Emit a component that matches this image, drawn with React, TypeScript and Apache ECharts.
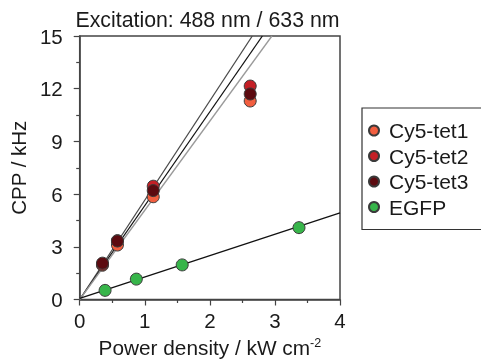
import React, { useEffect, useRef } from "react";
import * as echarts from "echarts";

const titleText = "Excitation: 488 nm / 633 nm";
const seriesNames = ["Cy5-tet1", "Cy5-tet2", "Cy5-tet3", "EGFP"];
const seriesColors = ["#f25e3f", "#c41f26", "#5c0a10", "#37b54a"];

const cy5Power = [0.35, 0.58, 1.13, 2.62];
const cy5Tet1 = [1.95, 3.1, 5.85, 11.3];
const cy5Tet2 = [2.0, 3.35, 6.45, 12.15];
const cy5Tet3 = [2.07, 3.33, 6.2, 11.7];

const egfpPower = [0.39, 0.87, 1.575, 3.37];
const egfpCpp = [0.52, 1.16, 1.97, 4.09];

// fit lines: [x0, y0, x1, y1]
const fitLineA = [0, 0, 2.652, 15];
const fitLineB = [0, 0, 2.807, 15];
const fitLineC = [0, 0, 2.954, 15];
const fitLineEgfp = [0, 0.07, 4, 4.93];
const fitColors = ["#4a4a4a", "#111111", "#9a9a9a", "#111111"];

const xTicks = [0, 1, 2, 3, 4];
const yTicks = [0, 3, 6, 9, 12, 15];

const FONT = "'Liberation Sans', Arial, Helvetica, sans-serif";

export default function App() {
  const ref = useRef<HTMLDivElement>(null);
  useEffect(() => {
    if (!ref.current) return;
    const chart = echarts.init(ref.current, null, { renderer: "svg" });
    const pts = (xs: number[], ys: number[]) => xs.map((x, i) => [x, ys[i]]);
    const line = (l: number[], color: string) => ({
      type: "line",
      data: [
        [l[0], l[1]],
        [l[2], l[3]],
      ],
      showSymbol: false,
      symbol: "none",
      silent: true,
      clip: true,
      lineStyle: { color, width: 1.3 },
      z: 1,
    });
    const scat = (name: string, xs: number[], ys: number[], color: string) => ({
      type: "scatter",
      name,
      data: pts(xs, ys),
      symbol: "circle",
      symbolSize: 12,
      itemStyle: { color, borderColor: "#3a3a3a", borderWidth: 1, opacity: 1 },
      z: 3,
    });
    chart.setOption({
      animation: false,
      textStyle: { fontFamily: FONT },
      grid: {
        left: 75,
        right: 141,
        top: 36,
        bottom: 61.5,
        show: true,
        borderColor: "#444",
        borderWidth: 1.5,
        backgroundColor: "transparent",
      },
      graphic: [
        {
          type: "text",
          x: 207.5,
          y: 20,
          style: {
            text: titleText,
            fontSize: 21.3,
            fontFamily: FONT,
            fill: "#1a1a1a",
            textAlign: "center",
            textVerticalAlign: "middle",
          },
        },
      ],
      legend: {
        data: seriesNames,
        orient: "vertical",
        left: 362,
        top: 108,
        padding: [12, 20, 12, 6],
        itemGap: 4.5,
        itemWidth: 20,
        itemHeight: 10,
        icon: "circle",
        borderColor: "#333",
        borderWidth: 1.2,
        borderRadius: 0,
        textStyle: { fontSize: 21, color: "#1a1a1a", fontFamily: FONT, lineHeight: 20.5 },
      },
      xAxis: {
        type: "value",
        min: xTicks[0],
        max: xTicks[xTicks.length - 1],
        interval: 1,
        name: "{a|Power density / kW cm}{s|-2}",
        nameLocation: "middle",
        nameGap: 37,
        nameTextStyle: {
          rich: {
            a: { fontSize: 20.8, color: "#1a1a1a", fontFamily: FONT, lineHeight: 22 },
            s: { fontSize: 12.5, color: "#1a1a1a", fontFamily: FONT, verticalAlign: "top", lineHeight: 12 },
          },
        },
        axisLine: { lineStyle: { color: "#444", width: 1.5 } },
        axisTick: { show: true, inside: false, length: 6, lineStyle: { color: "#444", width: 1.2 } },
        minorTick: { show: true, splitNumber: 2, length: 3.5, lineStyle: { color: "#444", width: 1.2 } },
        splitLine: { show: false },
        axisLabel: { fontSize: 20.5, color: "#1a1a1a", margin: 10, fontFamily: FONT },
      },
      yAxis: {
        type: "value",
        min: yTicks[0],
        max: yTicks[yTicks.length - 1],
        interval: 3,
        name: "CPP / kHz",
        nameLocation: "middle",
        nameGap: 43,
        nameTextStyle: { fontSize: 20.5, color: "#1a1a1a", fontFamily: FONT },
        axisLine: { lineStyle: { color: "#444", width: 1.5 } },
        axisTick: { show: true, inside: false, length: 6, lineStyle: { color: "#444", width: 1.2 } },
        minorTick: { show: true, splitNumber: 2, length: 3.5, lineStyle: { color: "#444", width: 1.2 } },
        splitLine: { show: false },
        axisLabel: { fontSize: 20.5, color: "#1a1a1a", margin: 17, fontFamily: FONT },
      },
      series: [
        line(fitLineA, fitColors[0]),
        line(fitLineB, fitColors[1]),
        line(fitLineC, fitColors[2]),
        line(fitLineEgfp, fitColors[3]),
        scat(seriesNames[0], cy5Power, cy5Tet1, seriesColors[0]),
        scat(seriesNames[1], cy5Power, cy5Tet2, seriesColors[1]),
        scat(seriesNames[2], cy5Power, cy5Tet3, seriesColors[2]),
        scat(seriesNames[3], egfpPower, egfpCpp, seriesColors[3]),
      ],
    });
    return () => chart.dispose();
  }, []);
  return <div ref={ref} style={{ width: 481, height: 363, position: "fixed", left: 0, top: 0 }} />;
}
